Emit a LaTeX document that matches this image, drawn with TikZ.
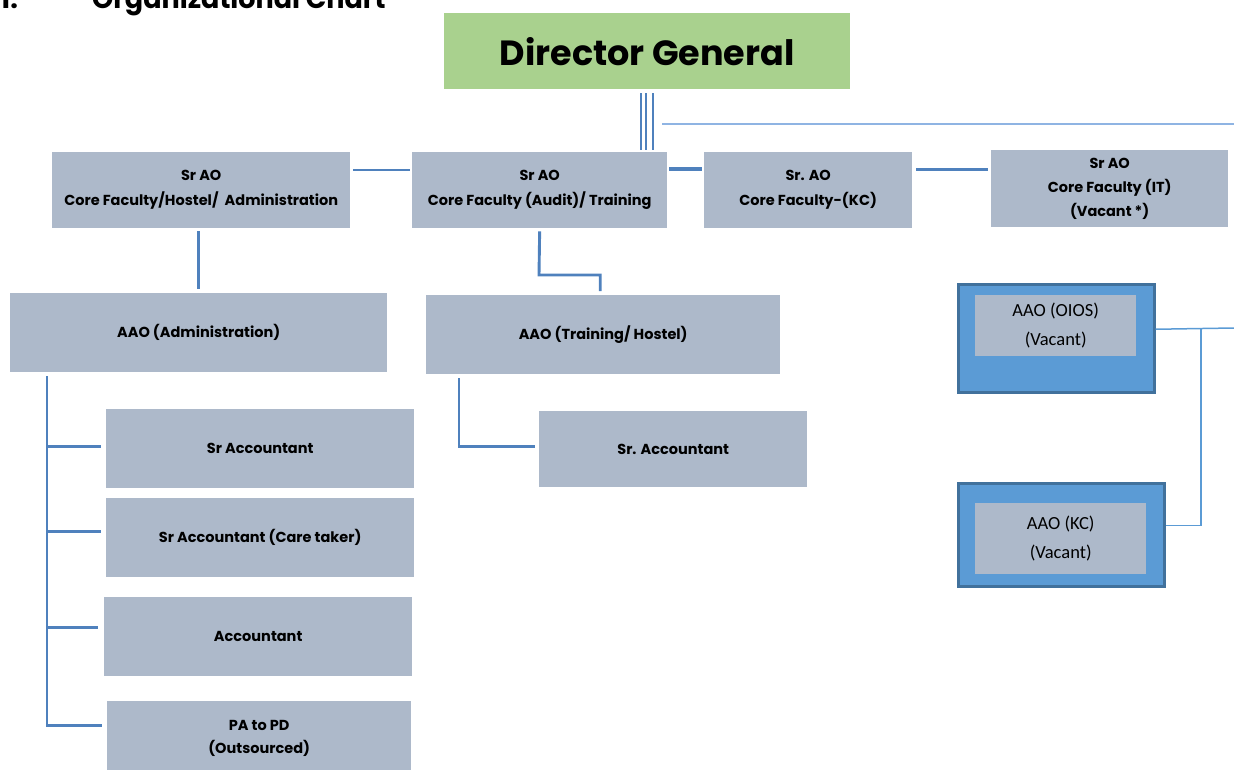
\documentclass[tikz,border=0pt]{standalone}
\usepackage{fontspec}
\setmainfont{Poppins}
\newfontfamily\calfont{Carlito}
\definecolor{boxg}{HTML}{ADB9CA}
\definecolor{dgg}{HTML}{A9D18E}
\definecolor{lnb}{HTML}{4F81BD}
\definecolor{lnl}{HTML}{8FB4E3}
\definecolor{vb}{HTML}{5B9BD5}
\definecolor{vbd}{HTML}{41719C}
\begin{document}
\begin{tikzpicture}[x=1pt,y=-1pt,
  gbox/.style={fill=boxg, inner sep=0pt, anchor=north west, align=center,
    font=\bfseries\fontsize{14.5}{25}\selectfont},
  dgbox/.style={fill=dgg, inner sep=0pt, anchor=north west, align=center,
    font=\bfseries\fontsize{35}{40}\selectfont},
  outerbox/.style={fill=vb, draw=vbd, line width=2.5pt, inner sep=0pt, anchor=north west},
  innerbox/.style={fill=boxg, inner sep=0pt, anchor=north west, align=center,
    font=\calfont\fontsize{18.5}{29}\selectfont},
  conn/.style={draw=lnb, line width=2.9pt},
  thinconn/.style={draw=vb, line width=1.5pt},
  lightconn/.style={draw=lnl, line width=2.2pt},
  ttl/.style={anchor=base west, inner sep=0pt, font=\bfseries\fontsize{27}{30}\selectfont}]
\useasboundingbox (0,0) rectangle (1234,770);

% title
\node[ttl] (tnum) at (0,9) {1.};
\node[ttl] (ttext) at (92,9) {Organizational Chart};

% top
\node[dgbox, minimum width=406pt, minimum height=76pt] (dg) at (444,13) {Director General};

% Sr AO row
\node[gbox, minimum width=298pt, minimum height=76pt] (s1) at (52,152) {Sr AO\\Core Faculty/Hostel/\ \ Administration};
\node[gbox, minimum width=255pt, minimum height=76pt] (s2) at (412,152) {Sr AO\\Core Faculty (Audit)/ Training};
\node[gbox, minimum width=208pt, minimum height=76pt] (s3) at (704,152) {Sr. AO\\Core Faculty-(KC)};
\node[gbox, minimum width=237pt, minimum height=77pt] (s4) at (991,150) {Sr AO\\[-1pt]Core Faculty (IT)\\[-1pt](Vacant *)};

% AAO row
\node[gbox, minimum width=377pt, minimum height=79pt] (a1) at (10,293) {AAO (Administration)};
\node[gbox, minimum width=354pt, minimum height=79pt] (t1) at (426,295) {AAO (Training/ Hostel)};
\node[gbox, minimum width=268pt, minimum height=76pt] (sa2) at (539,411) {Sr. Accountant};

% left column
\node[gbox, minimum width=308pt, minimum height=79pt] (b1) at (106,409) {Sr Accountant};
\node[gbox, minimum width=308pt, minimum height=79pt] (b2) at (106,498) {Sr Accountant (Care taker)};
\node[gbox, minimum width=308pt, minimum height=79pt] (b3) at (104,597) {Accountant};
\node[gbox, minimum width=304pt, minimum height=75pt] (pa) at (107,701) {PA to PD\\[-2pt](Outsourced)};

% right vacant boxes
\node[outerbox, minimum width=196pt, minimum height=108pt] (o1) at (957,283) {};
\node[innerbox, minimum width=161pt, minimum height=61pt] (o1i) at (975,295) {AAO (OIOS)\\(Vacant)};
\node[outerbox, minimum width=206pt, minimum height=103pt] (k1) at (957,482) {};
\node[innerbox, minimum width=171pt, minimum height=71pt] (k1i) at (975,503) {AAO (KC)\\(Vacant)};

% triple lines from DG
\foreach \dx in {-6,-1,6}
  \draw[draw=lnb, line width=2.2pt, shorten <=4pt, shorten >=2pt]
    ([xshift=\dx pt]dg.south) -- ([xshift=\dx pt]dg.south |- s2.north);

% thin light line
\coordinate (tl1) at (662,124);
\coordinate (tl2) at (1234,124);
\draw[lightconn] (tl1) -- (tl2);

% row connectors
\draw[conn, line width=2.4pt, shorten <=3pt, shorten >=2pt]
  ([yshift=20pt]s1.east) -- ([yshift=20pt]s1.east -| s2.west);
\draw[conn, line width=3.8pt, shorten <=2pt, shorten >=2pt]
  ([yshift=21pt]s2.east) -- ([yshift=21pt]s2.east -| s3.west);
\draw[conn, line width=2.8pt, shorten <=4pt, shorten >=3pt]
  ([yshift=21pt]s3.east) -- ([yshift=21pt]s3.east -| s4.west);

% Sr AO 1 -> AAO admin
\draw[conn, shorten <=3pt, shorten >=4pt] (a1.north |- s1.south) -- (a1.north);

% Sr AO 2 -> AAO training
\coordinate (kn) at (539,275);
\draw[conn, shorten <=3pt, shorten >=4pt] (s2.south) -- (kn) -| ([xshift=-3pt]t1.north);

% AAO training -> Sr. Accountant
\draw[conn, shorten <=4pt, shorten >=4pt] ([xshift=33pt]t1.south west) |- ([yshift=3pt]sa2.west);

% left trunk
\coordinate (tr) at ([xshift=37pt,yshift=-4pt]a1.south west);
\coordinate (e1) at ([yshift=2pt]b1.west);
\coordinate (e2) at ([yshift=6.5pt]b2.west);
\coordinate (e3) at ([yshift=9.5pt]b3.west);
\coordinate (e4) at ([yshift=13pt]pa.west);
\draw[conn, shorten >=5pt] (tr) |- (e4);
\draw[conn, shorten >=5pt] (tr |- e1) -- (e1);
\draw[conn, shorten >=5pt] (tr |- e2) -- (e2);
\draw[conn, shorten >=6pt] (tr |- e3) -- (e3);

% right connectors
\coordinate (re) at (1234,328);
\coordinate (rv) at (1201,328);
\coordinate (ke) at ([yshift=9.5pt]k1.east);
\draw[thinconn] ([yshift=9pt]o1.east) -- (re);
\draw[thinconn] (rv) |- (ke);
\end{tikzpicture}
\end{document}
